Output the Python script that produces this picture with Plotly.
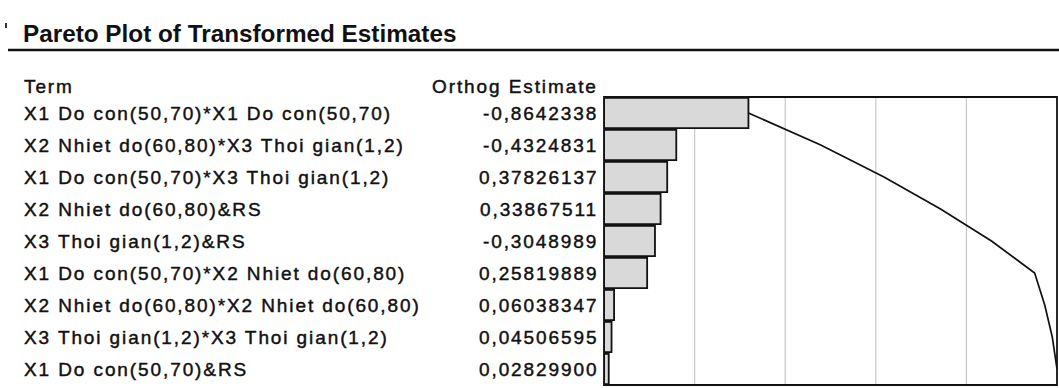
import plotly.graph_objects as go

# Model terms and their orthogonalized estimates, sorted by absolute size
terms = [
    "X1 Do con(50,70)*X1 Do con(50,70)",
    "X2 Nhiet do(60,80)*X3 Thoi gian(1,2)",
    "X1 Do con(50,70)*X3 Thoi gian(1,2)",
    "X2 Nhiet do(60,80)&RS",
    "X3 Thoi gian(1,2)&RS",
    "X1 Do con(50,70)*X2 Nhiet do(60,80)",
    "X2 Nhiet do(60,80)*X2 Nhiet do(60,80)",
    "X3 Thoi gian(1,2)*X3 Thoi gian(1,2)",
    "X1 Do con(50,70)&RS",
]
estimates = [
    -0.8642338, -0.4324831, 0.37826137, 0.33867511, -0.3048989,
    0.25819889, 0.06038347, 0.04506595, 0.02829900,
]
estimate_labels = [
    "-0,8642338", "-0,4324831", "0,37826137", "0,33867511", "-0,3048989",
    "0,25819889", "0,06038347", "0,04506595", "0,02829900",
]
grid_values = [0.2, 0.4, 0.6, 0.8]

W, H = 1059, 388
total = sum(abs(v) for v in estimates)
share = [abs(v) / total for v in estimates]
cum = []
running = 0.0
for s in share:
    running += s
    cum.append(running)

rows = list(range(len(terms)))

# Plot frame in pixels
x0, x1 = 604, 1057
y_top, y_bot = 97, 385

fig = go.Figure()
fig.add_trace(go.Bar(
    x=share, y=rows, orientation="h", base=0,
    marker=dict(color="#d9d9d9", line=dict(color="#111111", width=1.8)),
    width=0.94, hoverinfo="skip", showlegend=False,
))
fig.add_trace(go.Scatter(
    x=cum, y=rows, mode="lines",
    line=dict(color="#111111", width=1.7),
    hoverinfo="skip", showlegend=False, cliponaxis=False,
))

font = "Liberation Sans, Arial, sans-serif"
txt_font = dict(family=font, size=19, color="#111111")


def styled(s, spacing=1.9, stroke=0.45):
    return (f'<span style="letter-spacing:{spacing}px;stroke:#111111;'
            f'stroke-width:{stroke}px">{s}</span>')


ann = []
for i, (t, lab) in enumerate(zip(terms, estimate_labels)):
    ann.append(dict(x=22 / W, y=i, xref="paper", yref="y", text=styled(t),
                    showarrow=False, xanchor="left", yanchor="middle", font=txt_font))
    ann.append(dict(x=600 / W, y=i, xref="paper", yref="y", text=styled(lab),
                    showarrow=False, xanchor="right", yanchor="middle", font=txt_font))
ann.append(dict(x=22 / W, y=1 - 86 / H, xref="paper", yref="paper", text=styled("Term"),
                showarrow=False, xanchor="left", yanchor="middle", font=txt_font))
ann.append(dict(x=600 / W, y=1 - 86 / H, xref="paper", yref="paper",
                text=styled("Orthog Estimate"),
                showarrow=False, xanchor="right", yanchor="middle", font=txt_font))
ann.append(dict(x=21 / W, y=1 - 33 / H, xref="paper", yref="paper",
                text="<b>Pareto Plot of Transformed Estimates</b>",
                showarrow=False, xanchor="left", yanchor="middle",
                font=dict(family=font, size=24.3, color="#111111")))

shapes = [
    dict(type="line", xref="paper", yref="paper", x0=8 / W, x1=1.0,
         y0=1 - 50 / H, y1=1 - 50 / H, line=dict(color="#111111", width=2.4)),
    dict(type="line", xref="paper", yref="paper", x0=6 / W, x1=6 / W,
         y0=1 - 23 / H, y1=1 - 28 / H, line=dict(color="#333333", width=2)),
]
for g in grid_values:
    shapes.append(dict(type="line", xref="x", yref="paper", x0=g, x1=g,
                       y0=1 - y_bot / H, y1=1 - y_top / H, layer="below",
                       line=dict(color="#c8c8c8", width=1.2)))
shapes.append(dict(type="rect", xref="paper", yref="paper",
                   x0=x0 / W, x1=x1 / W, y0=1 - y_bot / H, y1=1 - y_top / H,
                   line=dict(color="#111111", width=1.8)))

fig.update_layout(
    width=W, height=H, margin=dict(l=0, r=0, t=0, b=0),
    paper_bgcolor="white", plot_bgcolor="white",
    xaxis=dict(domain=[x0 / W, x1 / W], range=[0, 1], showgrid=False,
               showticklabels=False, zeroline=False, ticks=""),
    yaxis=dict(domain=[1 - y_bot / H, 1 - y_top / H], range=[len(terms) - 0.5, -0.5],
               showgrid=False, showticklabels=False, zeroline=False, ticks=""),
    annotations=ann, shapes=shapes, bargap=0.06,
)
fig.write_html("out.html")
